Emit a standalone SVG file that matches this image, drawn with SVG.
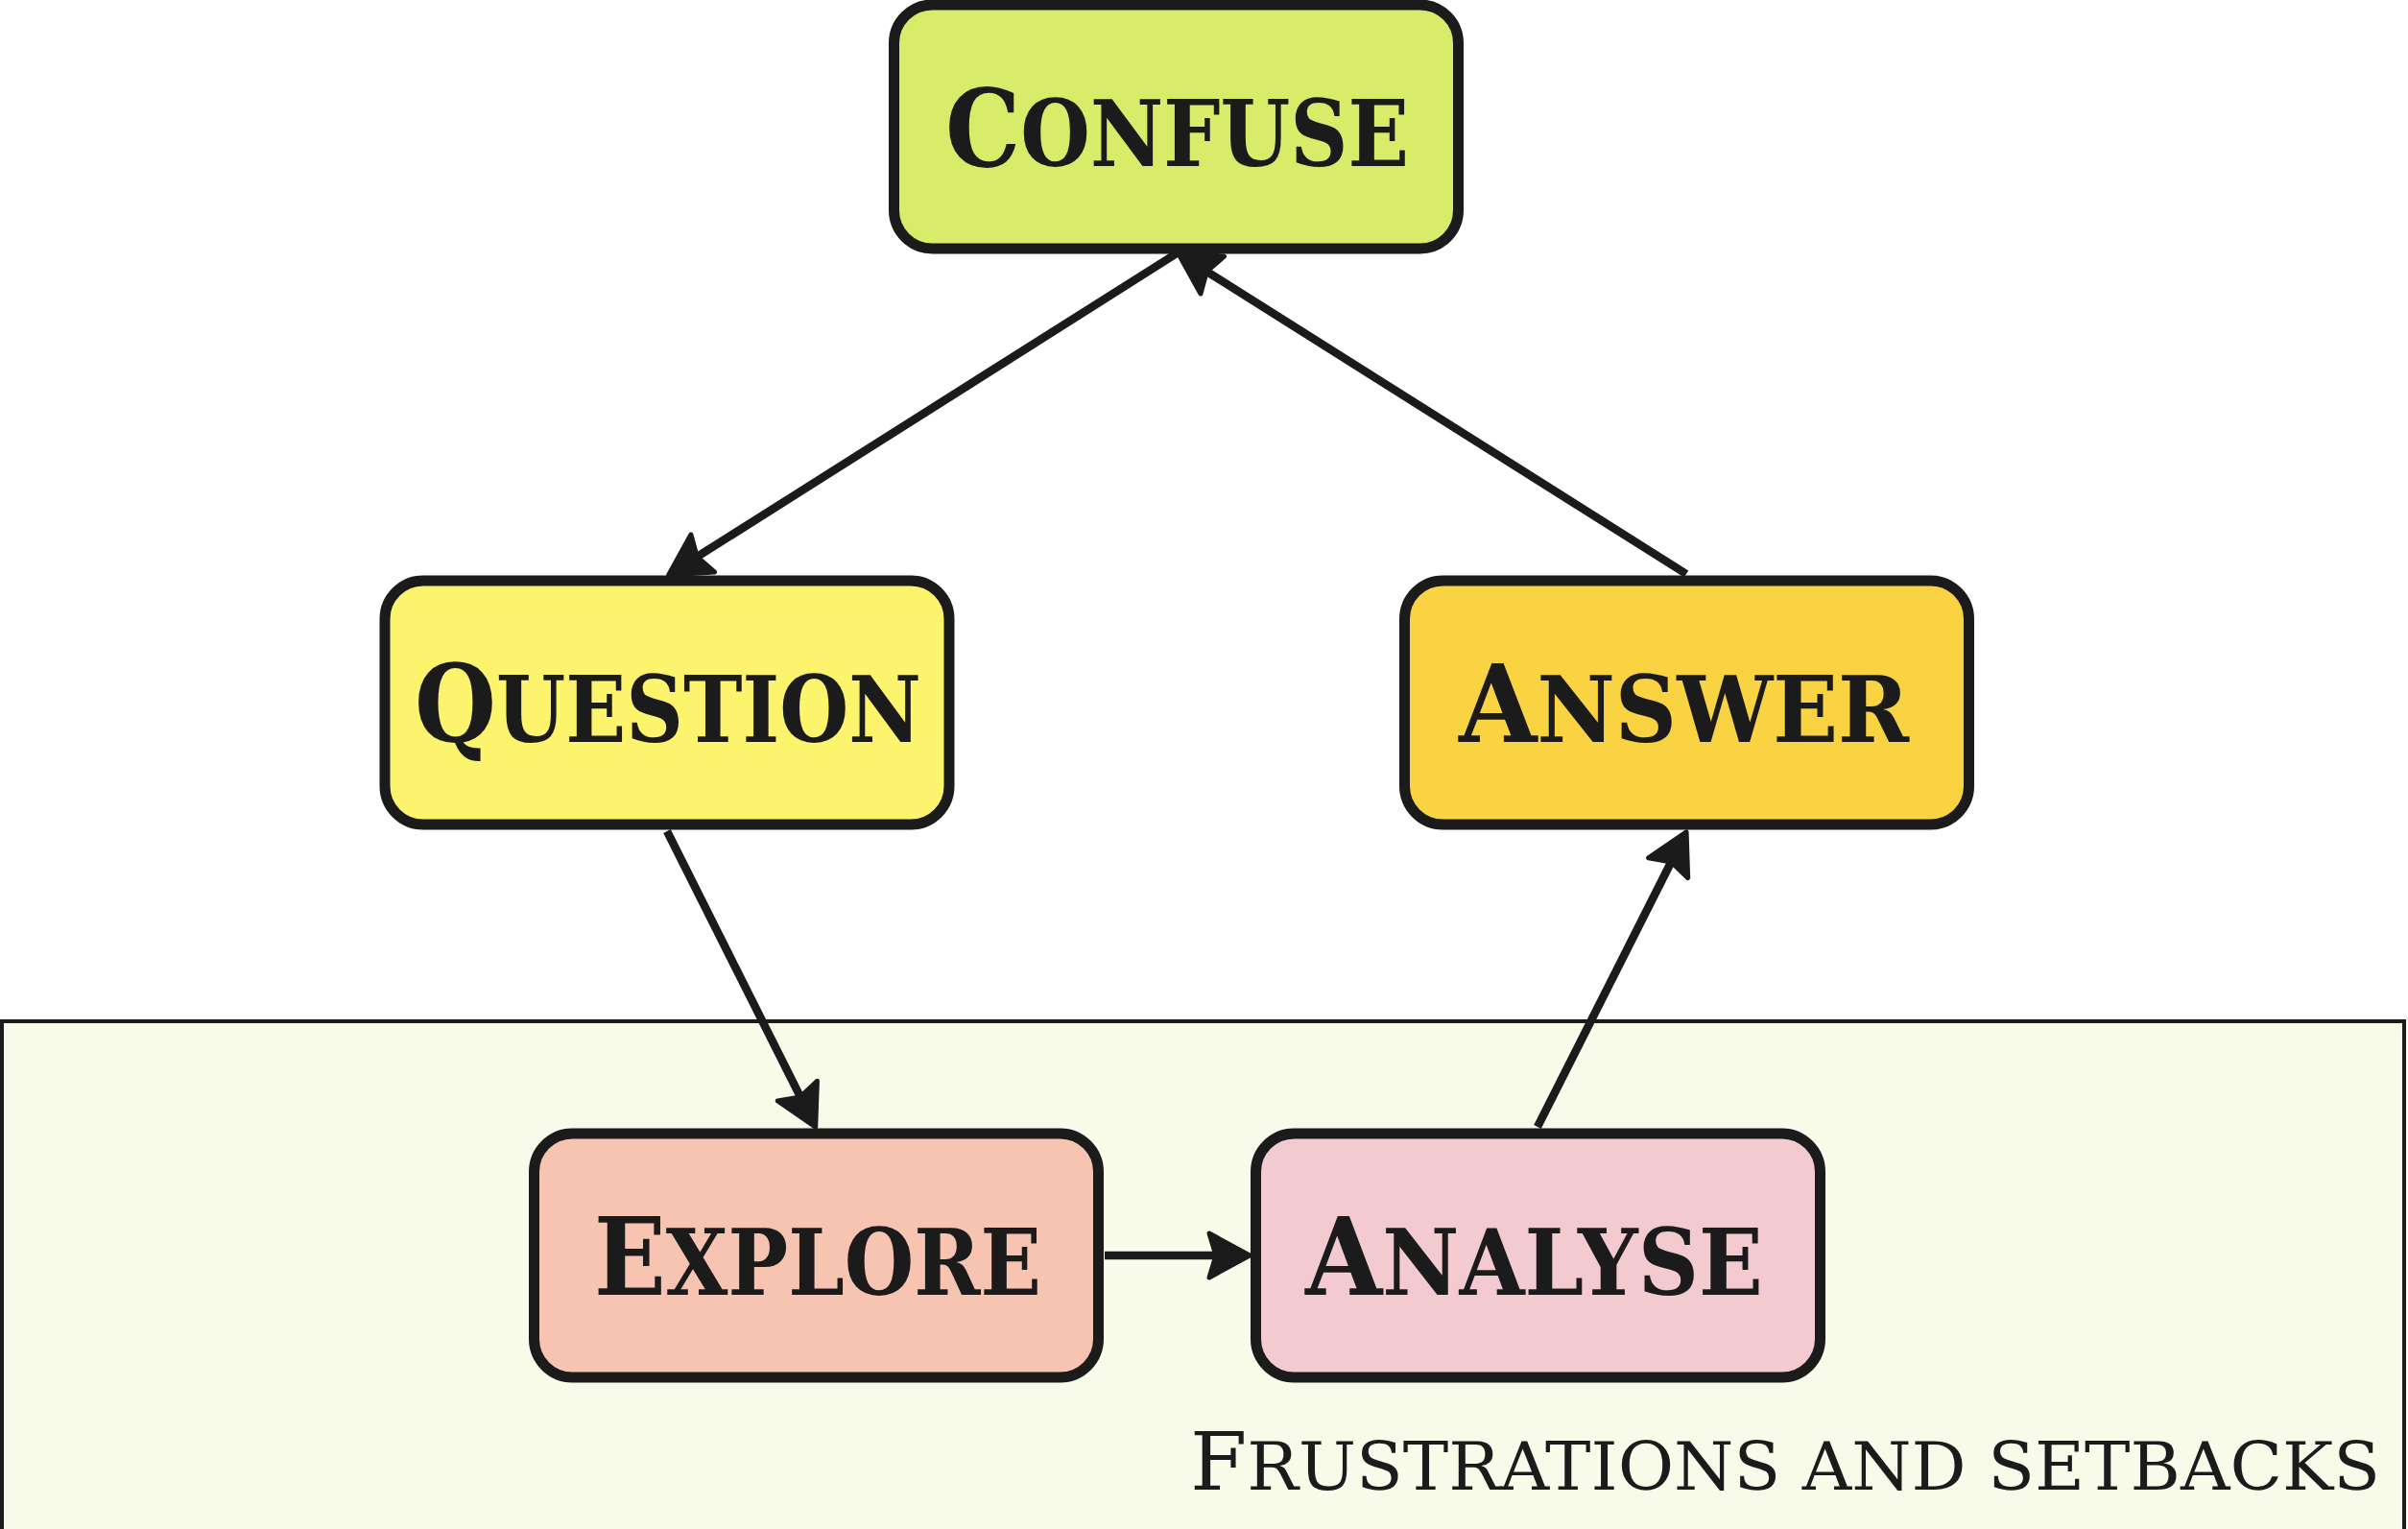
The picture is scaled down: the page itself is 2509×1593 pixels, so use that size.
<svg xmlns="http://www.w3.org/2000/svg" width="2509" height="1593" viewBox="0 0 2509 1593">
<style>
.node{stroke:#1b1b1b;stroke-width:11}
.lbl{font-family:"DejaVu Serif Condensed","DejaVu Serif",serif;font-weight:bold;fill:#1b1b1b}
.thin{font-weight:normal}
.big{font-size:112px}
.sm{font-size:95px}
.fbig{font-size:84px}
.fsm{font-size:70px}
.edge{stroke:#1b1b1b;stroke-width:8.5;fill:none}
</style>
<defs>
<marker id="ah" markerUnits="userSpaceOnUse" viewBox="-5 -30 60 60" markerWidth="60" markerHeight="60" refX="9" refY="0" orient="auto" overflow="visible">
<path d="M44,0 L2,-23 L9,0 L2,23 Z" fill="#1b1b1b" stroke="#1b1b1b" stroke-width="5" stroke-linejoin="round"/>
</marker>
</defs>
<rect width="2509" height="1593" fill="#ffffff"/>
<g id="frame">
<rect x="2" y="1064" width="2503" height="1525" fill="#f8fbea" stroke="#1b1b1b" stroke-width="4"/>
<text class="lbl thin" x="1240" y="1552" textLength="1240" lengthAdjust="spacingAndGlyphs"><tspan class="fbig">F</tspan><tspan class="fsm">RUSTRATIONS AND SETBACKS</tspan></text>
</g>
<g id="confuse">
<rect class="node" x="931.5" y="5" width="588" height="254" rx="40" fill="#d8ec69"/>
<text class="lbl" x="985" y="173" textLength="483" lengthAdjust="spacingAndGlyphs"><tspan class="big">C</tspan><tspan class="sm">ONFUSE</tspan></text>
</g>
<g id="question">
<rect class="node" x="401" y="605" width="588" height="254" rx="40" fill="#fdf46e"/>
<text class="lbl" x="432" y="773" textLength="528" lengthAdjust="spacingAndGlyphs"><tspan class="big">Q</tspan><tspan class="sm">UESTION</tspan></text>
</g>
<g id="answer">
<rect class="node" x="1463.5" y="605" width="588" height="254" rx="40" fill="#fad343"/>
<text class="lbl" x="1520" y="773" textLength="469" lengthAdjust="spacingAndGlyphs"><tspan class="big">A</tspan><tspan class="sm">NSWER</tspan></text>
</g>
<g id="explore">
<rect class="node" x="556.5" y="1181" width="588" height="254" rx="40" fill="#f7c4b1"/>
<text class="lbl" x="619" y="1349" textLength="466" lengthAdjust="spacingAndGlyphs"><tspan class="big">E</tspan><tspan class="sm">XPLORE</tspan></text>
</g>
<g id="analyse">
<rect class="node" x="1308.5" y="1181" width="588" height="254" rx="40" fill="#f3cad0"/>
<text class="lbl" x="1360" y="1349" textLength="477" lengthAdjust="spacingAndGlyphs"><tspan class="big">A</tspan><tspan class="sm">NALYSE</tspan></text>
</g>
<g id="connectors">
<line class="edge" x1="1226" y1="264" x2="726.3" y2="580.2" marker-end="url(#ah)"/>
<line class="edge" x1="1757" y1="598" x2="1257.3" y2="282.8" marker-end="url(#ah)"/>
<line class="edge" x1="695" y1="866" x2="834" y2="1142.9" marker-end="url(#ah)"/>
<line class="edge" x1="1151" y1="1308" x2="1267" y2="1308" marker-end="url(#ah)"/>
<line class="edge" x1="1602" y1="1174" x2="1741.3" y2="898" marker-end="url(#ah)"/>
</g>
</svg>
